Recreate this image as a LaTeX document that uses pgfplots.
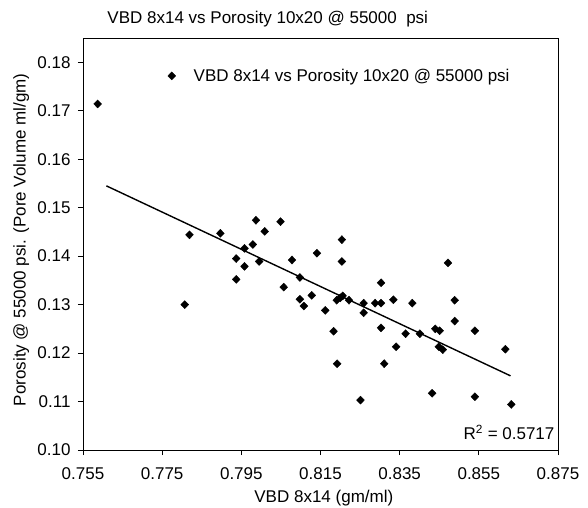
\documentclass[border=0pt]{standalone}
\usepackage{pgfplots}
\pgfplotsset{compat=1.18}
\usepackage{fontspec}
\setmainfont{Liberation Sans}
\newcommand{\fs}{\fontsize{17bp}{20bp}\selectfont}

\begin{document}
\begin{tikzpicture}
\useasboundingbox (-83bp,-58bp) rectangle (505bp,450bp);
\begin{axis}[
  scale only axis,
  width=475bp, height=412bp,
  xmin=0.755, xmax=0.875,
  ymin=0.10, ymax=0.185,
  xtick={0.755,0.775,...,0.875},
  ytick={0.10,0.11,...,0.18},
  tick align=outside,
  xtick pos=left, ytick pos=left,
  major tick length=5bp,
  axis line style={line width=0.8bp},
  tick style={black, line width=0.8bp},
  x tick label style={yshift=-9bp, /pgf/number format/.cd, fixed, fixed zerofill, precision=3},
  y tick label style={xshift=-4bp, /pgf/number format/.cd, fixed, fixed zerofill, precision=2},
  /pgf/number format/assume math mode=true,
  tick label style={font=\fs},
  scaled ticks=false,
  title={VBD 8x14 vs Porosity 10x20 @ 55000\ \ psi},
  title style={font=\fs, at={(axis description cs:0.389,1.032)}, anchor=center},
  xlabel={VBD 8x14 (gm/ml)},
  xlabel style={font=\fs, at={(axis description cs:0.507,-0.117)}, anchor=center},
  ylabel={Porosity @ 55000 psi. (Pore Volume ml/gm)},
  ylabel style={font=\fs, at={(axis description cs:-0.130,0.51)}, anchor=center},
  legend style={draw=none, fill=none, font=\fs, at={(axis description cs:0.172,0.908)}, anchor=west},
]
\addplot[only marks, mark=diamond*, mark size=4bp, mark options={black, xscale=1.3}] coordinates {
(0.7587,0.1714) (0.7807,0.1300) (0.7819,0.1444) (0.7897,0.1447)
(0.7937,0.1395) (0.7937,0.1352) (0.7958,0.1416) (0.7958,0.1379)
(0.7979,0.1424) (0.7987,0.1474) (0.7995,0.1389) (0.8009,0.1451)
(0.8049,0.1471) (0.8057,0.1336) (0.8078,0.1392) (0.8098,0.1356)
(0.8098,0.1311) (0.8108,0.1297) (0.8128,0.1319) (0.8141,0.1406)
(0.8162,0.1288) (0.8183,0.1245) (0.8191,0.1309) (0.8200,0.1314)
(0.8206,0.1318) (0.8204,0.1434) (0.8204,0.1389) (0.8222,0.1309)
(0.8192,0.1178) (0.8251,0.1103) (0.8259,0.1303) (0.8259,0.1283)
(0.8288,0.1303) (0.8303,0.1303) (0.8303,0.1345) (0.8303,0.1252)
(0.8311,0.1178) (0.8334,0.1310) (0.8341,0.1213) (0.8365,0.1240)
(0.8382,0.1303) (0.8401,0.1240) (0.8432,0.1117) (0.8440,0.1250)
(0.8451,0.1246) (0.8449,0.1213) (0.8459,0.1207) (0.8472,0.1386)
(0.8489,0.1309) (0.8489,0.1266) (0.8540,0.1246) (0.8540,0.1110)
(0.8617,0.1208) (0.8632,0.1094)
};
\addlegendentry{\hspace{16bp}VBD 8x14 vs Porosity 10x20 @ 55000 psi}
\addplot[black, line width=1.4bp, forget plot] coordinates {(0.7609,0.1545) (0.8630,0.1153)};
\node[font=\fs, anchor=south east, inner sep=1bp] at (rel axis cs:0.995,0.022) {R\textsuperscript{2} = 0.5717};
\end{axis}
\end{tikzpicture}
\end{document}
